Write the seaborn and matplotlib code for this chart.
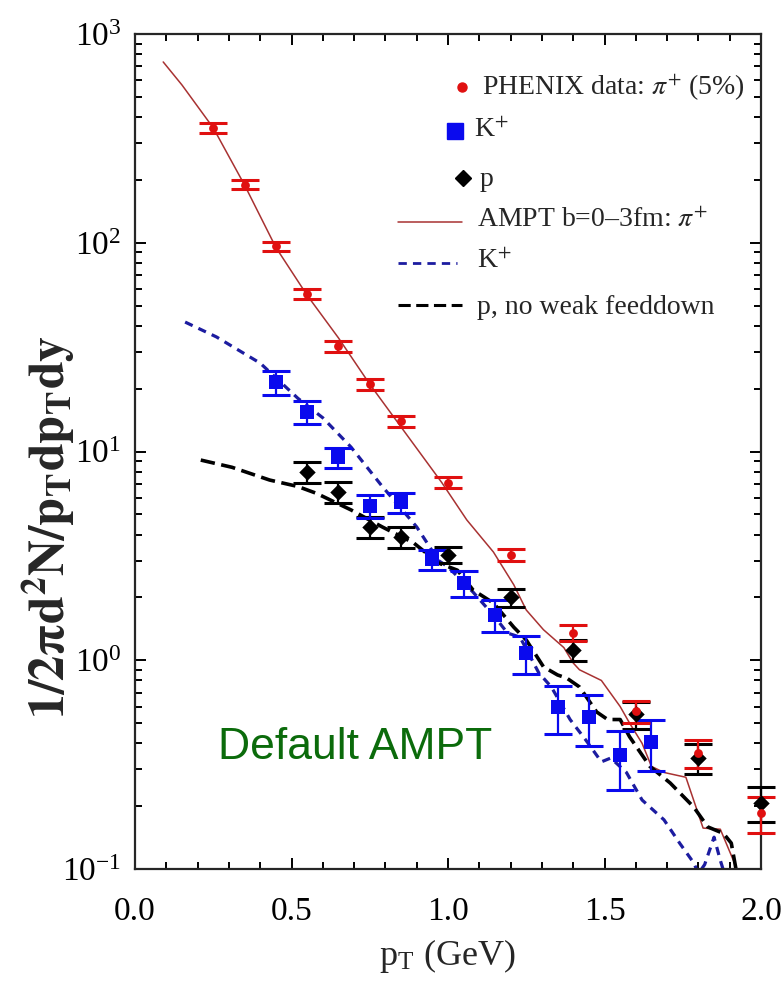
import numpy as np
import pandas as pd
import matplotlib
matplotlib.use("Agg")
import matplotlib.pyplot as plt
import seaborn as sns
from matplotlib.ticker import MultipleLocator, LogLocator, NullFormatter, FormatStrFormatter

# PHENIX data, pi+ (5% central)
pi_pt = [0.25, 0.35, 0.45, 0.55, 0.65, 0.75, 0.85, 1.0, 1.2, 1.4, 1.6, 1.8, 2.0]
pi_y = [355, 190, 96, 57, 32, 21, 14, 7.1, 3.2, 1.35, 0.57, 0.36, 0.185]
pi_err = [18, 10, 5, 3, 1.9, 1.3, 0.85, 0.45, 0.22, 0.12, 0.07, 0.055, 0.037]

# PHENIX data, K+
k_pt = [0.45, 0.55, 0.65, 0.75, 0.85, 0.95, 1.05, 1.15, 1.25, 1.35, 1.45, 1.55, 1.65]
k_y = [21.5, 15.5, 9.4, 5.5, 5.7, 3.05, 2.35, 1.65, 1.08, 0.60, 0.535, 0.35, 0.405]
k_err = [2.8, 2.0, 1.05, 0.72, 0.65, 0.34, 0.33, 0.29, 0.22, 0.155, 0.145, 0.11, 0.11]

# PHENIX data, p
p_pt = [0.55, 0.65, 0.75, 0.85, 1.0, 1.2, 1.4, 1.6, 1.8, 2.0]
p_y = [8.0, 6.4, 4.35, 3.9, 3.2, 2.0, 1.12, 0.55, 0.34, 0.207]
p_err = [0.93, 0.74, 0.5, 0.45, 0.29, 0.2, 0.13, 0.08, 0.055, 0.04]

# AMPT, b = 0-3 fm
ampt_pi_pt = [0.09, 0.15, 0.25, 0.35, 0.45, 0.55, 0.65, 0.75, 0.85, 0.98, 1.06, 1.145,
              1.21, 1.25, 1.305, 1.37, 1.40, 1.42, 1.49, 1.55, 1.58, 1.62, 1.65, 1.69,
              1.76, 1.815, 1.87, 1.915, 1.93]
ampt_pi_y = [735, 570, 355, 189, 95, 56, 35, 21, 13.1, 7.1, 4.7, 3.3,
             2.3, 1.74, 1.40, 1.15, 0.97, 0.90, 0.80, 0.60, 0.50, 0.40, 0.31, 0.29,
             0.275, 0.157, 0.155, 0.107, 0.09]

ampt_k_pt = [0.16, 0.26, 0.40, 0.52, 0.60, 0.69, 0.79, 0.90, 0.97, 1.0, 1.08, 1.15,
             1.19, 1.23, 1.29, 1.33, 1.39, 1.44, 1.49, 1.52, 1.57, 1.62, 1.69, 1.74,
             1.785, 1.80, 1.82, 1.85, 1.87, 1.89]
ampt_k_y = [41.7, 35.4, 26.5, 18, 14.5, 10.5, 6.8, 4.35, 3.0, 2.8, 2.12, 1.61,
            1.35, 1.29, 0.87, 0.745, 0.52, 0.415, 0.326, 0.34, 0.29, 0.214, 0.172, 0.133,
            0.107, 0.095, 0.105, 0.142, 0.11, 0.088]

ampt_p_pt = [0.21, 0.31, 0.43, 0.52, 0.58, 0.69, 0.79, 0.89, 0.97, 1.03, 1.08, 1.145,
             1.21, 1.25, 1.305, 1.35, 1.38, 1.42, 1.475, 1.51, 1.55, 1.58, 1.645, 1.71,
             1.785, 1.83, 1.88, 1.905, 1.92, 1.93]
ampt_p_y = [9.1, 8.4, 7.3, 6.8, 6.3, 5.25, 4.35, 3.65, 2.92, 2.7, 2.17, 1.88,
            1.44, 1.25, 0.93, 0.85, 0.82, 0.745, 0.565, 0.52, 0.52, 0.43, 0.31, 0.258,
            0.198, 0.159, 0.148, 0.133, 0.1, 0.09]

x_ticks = [0.0, 0.5, 1.0, 1.5, 2.0]

sns.set_style("ticks")
plt.rcParams['font.family'] = ['Liberation Serif', 'DejaVu Serif']
plt.rcParams['mathtext.fontset'] = 'stix'

fig = plt.figure(figsize=(7.81, 9.81), dpi=100)
ax = fig.add_axes([0.1729, 0.1142, 0.8015, 0.8511])
ax.set_yscale('log')

RED = '#e01010'
PI_LINE = '#a83232'
BLUE = '#0a0aee'
K_LINE = '#1c1ca0'

# model curves
sns.lineplot(x=ampt_pi_pt, y=ampt_pi_y, ax=ax, color=PI_LINE, lw=1.1, sort=False,
             estimator=None)
sns.lineplot(x=ampt_k_pt, y=ampt_k_y, ax=ax, color=K_LINE, lw=2.3, sort=False,
             estimator=None)
ax.lines[-1].set_dashes((2.6, 2.0))
sns.lineplot(x=ampt_p_pt, y=ampt_p_y, ax=ax, color='black', lw=2.6, sort=False,
             estimator=None)
ax.lines[-1].set_dashes((4.0, 1.8))

# data with error bars
ax.errorbar(p_pt, p_y, yerr=p_err, fmt='none', ecolor='black', elinewidth=1.6,
            capsize=10, capthick=2.2, clip_on=False, zorder=4)
ax.errorbar(k_pt, k_y, yerr=k_err, fmt='none', ecolor=BLUE, elinewidth=1.6,
            capsize=10, capthick=2.2, clip_on=False, zorder=4)
ax.errorbar(pi_pt, pi_y, yerr=pi_err, fmt='none', ecolor=RED, elinewidth=1.6,
            capsize=10, capthick=2.2, clip_on=False, zorder=4)

sns.scatterplot(x=p_pt, y=p_y, ax=ax, marker='D', s=70, color='black',
                edgecolor='black', linewidth=0, zorder=5, clip_on=False)
sns.scatterplot(x=k_pt, y=k_y, ax=ax, marker='s', s=115, color=BLUE,
                edgecolor=BLUE, linewidth=0, zorder=5, clip_on=False)
sns.scatterplot(x=pi_pt, y=pi_y, ax=ax, marker='o', s=40, color=RED,
                edgecolor=RED, linewidth=0, zorder=6, clip_on=False)

# axes
ax.set_xlim(0, 2.0)
ax.set_ylim(0.1, 1000)
ax.set_xticks(x_ticks)
ax.xaxis.set_major_formatter(FormatStrFormatter('%.1f'))
ax.xaxis.set_minor_locator(MultipleLocator(0.1))
ax.yaxis.set_major_locator(LogLocator(base=10, numticks=10))
ax.yaxis.set_minor_locator(LogLocator(base=10, subs=np.arange(2, 10), numticks=50))
ax.yaxis.set_minor_formatter(NullFormatter())
for s in ax.spines.values():
    s.set_linewidth(1.6)
    s.set_visible(True)
ax.tick_params(which='both', direction='in', top=True, right=True, width=1.4,
               labelsize=24, colors='black')
ax.tick_params(which='major', length=8)
ax.tick_params(which='minor', length=5)
ax.tick_params(axis='x', which='major', pad=20)
ax.tick_params(axis='y', which='major', pad=10)

ax.set_xlabel(r'p$_{\mathregular{T}}$ (GeV)', fontsize=26)
ax.xaxis.set_label_coords(0.5, -0.082)
ax.set_ylabel(r'$\mathbf{1/2\pi d^{2}N/p_{T}dp_{T}dy}$', fontsize=36)
ax.yaxis.set_label_coords(-0.092, 0.41)

# legend
fs = 20
ax.plot([0.522], [0.936], 'o', color=RED, ms=6.5, transform=ax.transAxes)
ax.text(0.555, 0.936, r'PHENIX data: $\pi^{+}$ (5%)', transform=ax.transAxes,
        fontsize=fs, va='center')
ax.plot([0.511], [0.884], 's', color=BLUE, ms=11, transform=ax.transAxes)
ax.text(0.542, 0.884, r'K$^{+}$', transform=ax.transAxes, fontsize=fs, va='center')
ax.plot([0.524], [0.828], 'D', color='black', ms=8.5, transform=ax.transAxes)
ax.text(0.551, 0.826, 'p', transform=ax.transAxes, fontsize=fs, va='center')
ax.plot([0.42, 0.522], [0.775, 0.775], color=PI_LINE, lw=1.1, transform=ax.transAxes)
ax.text(0.547, 0.777, r'AMPT b=0–3fm: $\pi^{+}$', transform=ax.transAxes,
        fontsize=fs, va='center')
l5, = ax.plot([0.42, 0.515], [0.726, 0.726], color=K_LINE, lw=2.0, transform=ax.transAxes)
l5.set_dashes((3.0, 2.2))
ax.text(0.547, 0.728, r'K$^{+}$', transform=ax.transAxes, fontsize=fs, va='center')
l6, = ax.plot([0.42, 0.522], [0.675, 0.675], color='black', lw=2.2, transform=ax.transAxes)
l6.set_dashes((4.0, 1.8))
ax.text(0.547, 0.673, 'p, no weak feeddown', transform=ax.transAxes,
        fontsize=fs, va='center')

ax.text(0.351, 0.145, 'Default AMPT', transform=ax.transAxes, fontsize=32,
        color='#0b6b0b', ha='center', va='center', family='Liberation Sans')

fig.savefig('out.png', dpi=100)
